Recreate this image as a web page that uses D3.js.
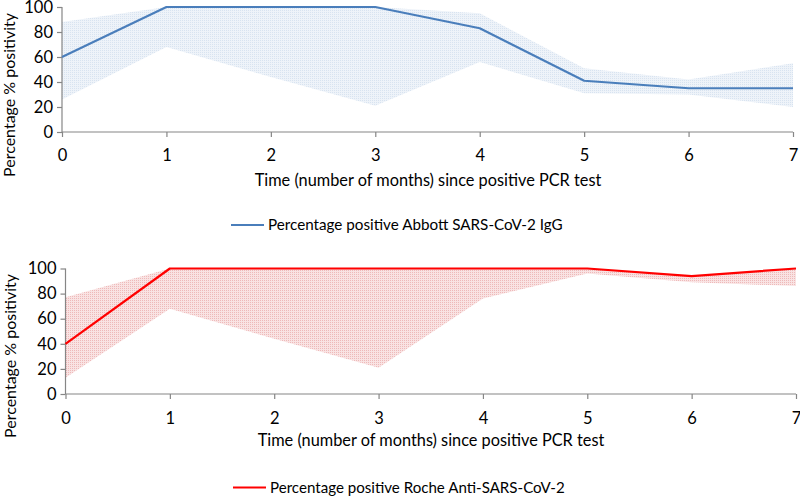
<!DOCTYPE html>
<html><head><meta charset="utf-8">
<script src="https://cdn.jsdelivr.net/npm/d3@7"></script>
<style>body{margin:0;background:#fff}svg{display:block}text{font-family:Lato,"Liberation Sans",Arial,sans-serif;fill:#000}</style>
</head><body>
<svg id="c" width="800" height="497"></svg>
<script>
const months = [0,1,2,3,4,5,6,7];
const yTicks = [0,20,40,60,80,100];
const abbottLine  = [60,100,100,100,83,41,35,35];
const abbottUpper = [88,100,100,100,95,51,42,55];
const abbottLower = [26,68,44,21,56,31,30,20];
const rocheLine  = [40,100,100,100,100,100,94,100];
const rocheUpper = [77,100,100,100,100,100,94,100];
const rocheLower = [13,68,44,21,76,96,89,86];
const xTitle = "Time (number of months) since positive PCR test";
const yTitle = "Percentage % positivity";
const legendAbbott = "Percentage positive Abbott SARS-CoV-2 IgG";
const legendRoche = "Percentage positive Roche Anti-SARS-CoV-2";

const FONT = "Lato, 'Liberation Sans', Arial, sans-serif";
const svg = d3.select("#c");
const defs = svg.append("defs");
function pattern(id, bg, dot){
  const p = defs.append("pattern").attr("id",id).attr("width",2).attr("height",2).attr("patternUnits","userSpaceOnUse");
  p.append("rect").attr("width",2).attr("height",2).attr("fill",bg);
  p.append("rect").attr("width",1).attr("height",1).attr("fill",dot);
}
pattern("pb","#eef3f9","#d8e3f0");
pattern("pr","#f9e3e3","#eeb9b9");

function fit(sel, target){
  const n = sel.node(); const w = n.getComputedTextLength();
  const fs = parseFloat(sel.attr("font-size"));
  sel.attr("font-size", fs*target/w);
}

function panel(cfg){
  const x = d3.scaleLinear().domain([0,7]).range([cfg.x0,cfg.x1]);
  const y = d3.scaleLinear().domain([0,100]).range([cfg.y0,cfg.y1]);
  const g = svg.append("g");
  const band = months.map((m,i)=>({m,lo:cfg.lower[i],hi:cfg.upper[i],v:cfg.line[i]}));
  g.append("path").datum(band).attr("fill",`url(#${cfg.pat})`)
    .attr("d",d3.area().x(d=>x(d.m)).y0(d=>y(d.lo)).y1(d=>y(d.hi)));
  const ya = g.append("g").attr("transform",`translate(${cfg.x0},0)`)
    .call(d3.axisLeft(y).tickValues(yTicks).tickFormat(d3.format("d")).tickSize(5).tickPadding(4));
  const xa = g.append("g").attr("transform",`translate(0,${cfg.y0})`)
    .call(d3.axisBottom(x).tickValues(months).tickFormat(d3.format("d")).tickSize(5).tickPadding(cfg.xpad));
  [ya,xa].forEach(a=>{
    a.select(".domain").attr("stroke","#868686").attr("stroke-width",1.2);
    a.selectAll(".tick line").attr("stroke","#868686").attr("stroke-width",1.2);
    a.selectAll(".tick text").attr("font-size",16.5).attr("font-family",FONT).attr("fill","#000");
  });
  ya.select(".domain").attr("d",`M-0,${cfg.y0}V${cfg.y1}`);
  xa.select(".domain").attr("d",`M${cfg.x0},0H${cfg.x1}`);
  g.append("path").datum(band).attr("fill","none").attr("stroke",cfg.color).attr("stroke-width",2.2)
    .attr("stroke-linejoin","round")
    .attr("d",d3.line().x(d=>x(d.m)).y(d=>y(d.v)));
  const xt = g.append("text").attr("x",cfg.xtx).attr("y",cfg.xty).attr("text-anchor","middle").attr("font-size",16).text(xTitle);
  fit(xt, 347);
  const yt = g.append("text").attr("transform",`translate(${cfg.ytx},${cfg.yty}) rotate(-90)`).attr("text-anchor","middle").attr("font-size",16).text(yTitle);
  fit(yt, 164);
  g.append("line").attr("x1",cfg.lx).attr("x2",cfg.lx+33).attr("y1",cfg.ly).attr("y2",cfg.ly).attr("stroke",cfg.color).attr("stroke-width",2.2);
  const lt = g.append("text").attr("x",cfg.lx+37).attr("y",cfg.ly).attr("dy","0.35em").attr("font-size",16).text(cfg.legend);
  fit(lt, cfg.lw);
}
panel({x0:62,x1:793,y0:132,y1:7,line:abbottLine,upper:abbottUpper,lower:abbottLower,pat:"pb",color:"#4a7ebb",
  xpad:12,xtx:428,xty:186,ytx:15,yty:95,lx:231,ly:225,legend:legendAbbott,lw:295});
panel({x0:65.5,x1:796,y0:394,y1:268.5,line:rocheLine,upper:rocheUpper,lower:rocheLower,pat:"pr",color:"#ff0000",
  xpad:13,xtx:431,xty:446,ytx:16,yty:356,lx:233,ly:487.5,legend:legendRoche,lw:295});
</script>
</body></html>
